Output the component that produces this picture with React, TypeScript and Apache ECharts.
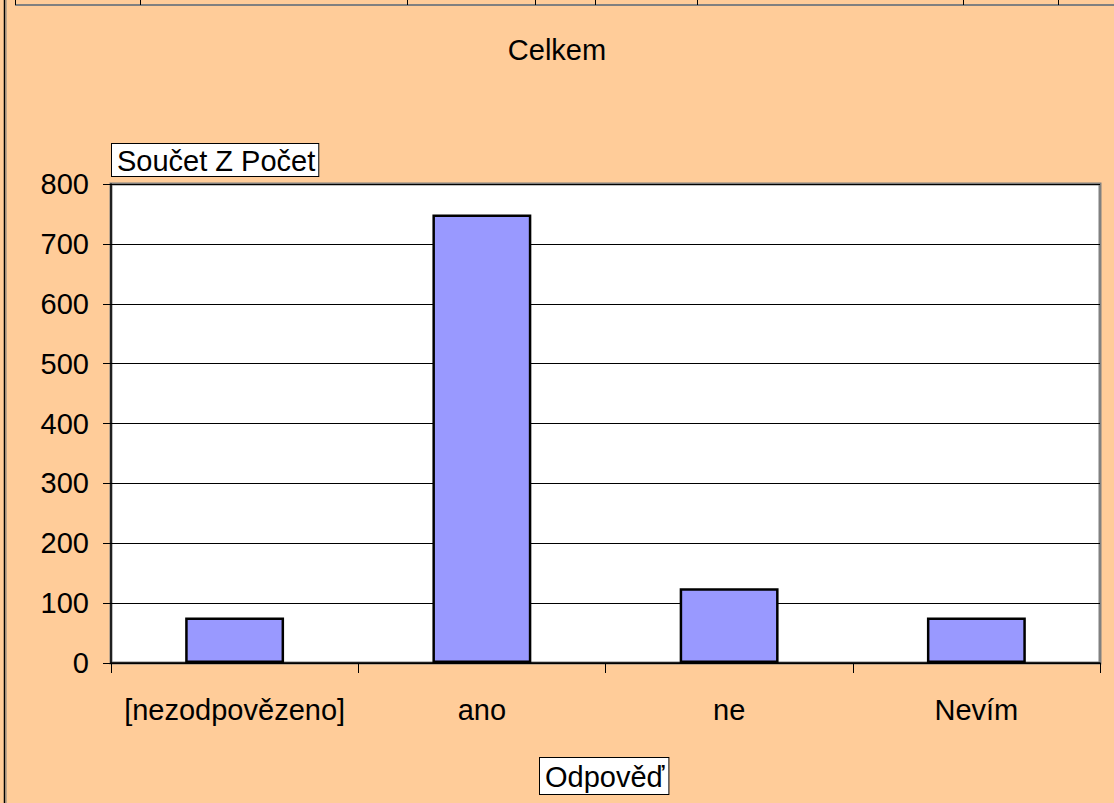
import React, { useEffect, useRef } from "react";
import * as echarts from "echarts";

const categories = ["[nezodpovězeno]", "ano", "ne", "Nevím"];
const values = [76, 749, 125, 76];
const titleText = "Celkem";
const yName = "Součet Z Počet";
const xName = "Odpověď";
const topCellEdges = [15, 140, 407, 535, 595, 697, 963, 1058];

export default function App() {
  const ref = useRef<HTMLDivElement>(null);
  useEffect(() => {
    if (!ref.current) return;
    const chart = echarts.init(ref.current, undefined, { renderer: "svg" });
    const font = "Liberation Sans, Arial, sans-serif";
    const graphic: any[] = [
      { type: "line", shape: { x1: 4.5, y1: 0, x2: 4.5, y2: 803 }, style: { stroke: "#000", lineWidth: 1.5 } },
      { type: "line", shape: { x1: 6, y1: 0, x2: 6, y2: 803 }, style: { stroke: "#808080", lineWidth: 1 } },
      { type: "line", shape: { x1: 15, y1: 5, x2: 1114, y2: 5 }, style: { stroke: "#808080", lineWidth: 2 } },
      ...topCellEdges.map((x) => ({
        type: "line",
        shape: { x1: x + 0.5, y1: 0, x2: x + 0.5, y2: 5 },
        style: { stroke: "#000", lineWidth: 1 },
      })),
      {
        type: "text",
        left: 111,
        top: 143,
        z: 10,
        style: {
          text: yName,
          font: `29px ${font}`,
          fill: "#000",
          backgroundColor: "#fff",
          borderColor: "#000",
          borderWidth: 1,
          padding: [2, 3, 1, 5],
        },
      },
      {
        type: "text",
        left: 539,
        top: 757,
        z: 10,
        style: {
          text: xName,
          font: `29px ${font}`,
          fill: "#000",
          backgroundColor: "#fff",
          borderColor: "#000",
          borderWidth: 1,
          padding: [4, 4, 3, 5],
        },
      },
    ];
    chart.setOption({
      animation: false,
      backgroundColor: "#FFCC99",
      title: {
        text: titleText,
        left: "center",
        top: 30,
        textStyle: { fontFamily: font, fontSize: 29, fontWeight: "normal", color: "#000" },
      },
      graphic,
      grid: {
        left: 111,
        right: 14,
        top: 184,
        bottom: 140,
        show: true,
        backgroundColor: "#fff",
        borderColor: "#808080",
        borderWidth: 3,
      },
      xAxis: {
        type: "category",
        data: categories,
        boundaryGap: true,
        axisLine: { show: true, lineStyle: { color: "#000", width: 1.5 } },
        axisTick: { show: true, interval: 0, length: 10, inside: false, lineStyle: { color: "#000" } },
        axisLabel: { interval: 0, color: "#000", fontFamily: font, fontSize: 29, margin: 32 },
        splitLine: { show: false },
      },
      yAxis: {
        type: "value",
        min: 0,
        max: 800,
        interval: 100,
        axisLine: { show: true, lineStyle: { color: "#000", width: 1.5 } },
        axisTick: { show: true, length: 8, lineStyle: { color: "#000" } },
        axisLabel: { color: "#000", fontFamily: font, fontSize: 29, margin: 22 },
        splitLine: { show: true, lineStyle: { color: "#000", width: 1 } },
      },
      series: [
        {
          type: "bar",
          data: values,
          barWidth: "40%",
          itemStyle: { color: "#9999FF", borderColor: "#000", borderWidth: 2.5 },
        },
      ],
    });
    return () => chart.dispose();
  }, []);
  return (
    <div
      ref={ref}
      style={{ position: "fixed", left: 0, top: 0, width: 1114, height: 803 }}
    />
  );
}
